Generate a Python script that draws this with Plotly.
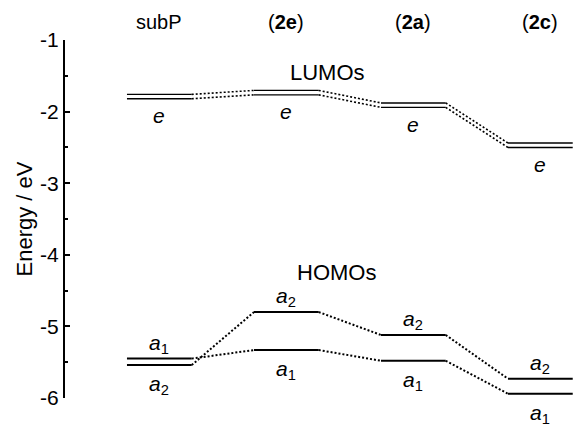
import plotly.graph_objects as go

# ---- data ----
columns = ["subP", "(<b>2e</b>)", "(<b>2a</b>)", "(<b>2c</b>)"]
lumo_e = [-1.79, -1.735, -1.91, -2.47]      # doubly degenerate e LUMOs (eV)
homo_a1 = [-5.45, -5.33, -5.48, -5.94]      # a1 HOMO levels (eV)
homo_a2 = [-5.54, -4.80, -5.12, -5.73]      # a2 HOMO levels (eV)
ytick_vals = [-1, -2, -3, -4, -5, -6]
ytick_text = ["-1", "-2", "-3", "-4", "-5", "-6"]
yminor_vals = [-1.5, -2.5, -3.5, -4.5, -5.5]

W = 0.51        # level width (x units)
D = 0.031       # half-gap of the double (degenerate) line, eV
FONT = "Liberation Sans, Arial, sans-serif"

def levels(vals, off=0.0):
    xs, ys = [], []
    for i, v in enumerate(vals):
        xs += [i, i + W, None]
        ys += [v + off, v + off, None]
    return xs, ys

def links(vals, off=0.0):
    xs, ys = [], []
    for i in range(len(vals) - 1):
        xs += [i + W, i + 1, None]
        ys += [vals[i] + off, vals[i + 1] + off, None]
    return xs, ys

fig = go.Figure()
solid = dict(color="black", width=1.4)
dotted = dict(color="black", width=1.6, dash="2px,2px")

for off in (D, -D):
    x, y = levels(lumo_e, off)
    fig.add_trace(go.Scatter(x=x, y=y, mode="lines", line=solid, hoverinfo="skip"))
    x, y = links(lumo_e, off)
    fig.add_trace(go.Scatter(x=x, y=y, mode="lines", line=dotted, hoverinfo="skip"))

for vals in (homo_a1, homo_a2):
    x, y = levels(vals)
    fig.add_trace(go.Scatter(x=x, y=y, mode="lines",
                             line=dict(color="black", width=2), hoverinfo="skip"))
    x, y = links(vals)
    fig.add_trace(go.Scatter(x=x, y=y, mode="lines",
                             line=dict(color="black", width=2, dash="2px,2px"),
                             hoverinfo="skip"))

def fnt(s):
    return dict(family=FONT, size=s, color="black")

ann = []
for i, name in enumerate(columns):
    ann.append(dict(x=i + W / 2, y=1.05, xref="x", yref="paper", text=name,
                    showarrow=False, font=fnt(20), xanchor="center", yanchor="middle"))
    ann.append(dict(x=i + W / 2, y=lumo_e[i], xref="x", yref="y", text="<i>e</i>",
                    showarrow=False, font=fnt(21), yanchor="middle", yshift=-19))
    up, lo = (homo_a1, homo_a2) if homo_a1[i] > homo_a2[i] else (homo_a2, homo_a1)
    up_lbl = "<i>a</i><sub>1</sub>" if up is homo_a1 else "<i>a</i><sub>2</sub>"
    lo_lbl = "<i>a</i><sub>1</sub>" if lo is homo_a1 else "<i>a</i><sub>2</sub>"
    ann.append(dict(x=i + W / 2, y=up[i], xref="x", yref="y", text=up_lbl,
                    showarrow=False, font=fnt(21), yanchor="middle", yshift=15))
    ann.append(dict(x=i + W / 2, y=lo[i], xref="x", yref="y", text=lo_lbl,
                    showarrow=False, font=fnt(21), yanchor="middle", yshift=-20))

ann.append(dict(x=1.58, y=-1.45, xref="x", yref="y", text="LUMOs",
                showarrow=False, font=fnt(22)))
ann.append(dict(x=1.65, y=-4.25, xref="x", yref="y", text="HOMOs",
                showarrow=False, font=fnt(22)))

fig.update_layout(
    width=574, height=426,
    margin=dict(l=65, r=0, t=40, b=28),
    paper_bgcolor="white", plot_bgcolor="white",
    showlegend=False,
    annotations=ann,
    font=fnt(20),
    xaxis=dict(range=[-0.488, 3.52], visible=False, showgrid=False, zeroline=False),
    yaxis=dict(range=[-6, -1], showgrid=False, zeroline=False,
               showline=True, linecolor="black", linewidth=2,
               ticks="inside", ticklen=5, tickwidth=1.5, tickcolor="black",
               tickvals=ytick_vals, ticktext=ytick_text,
               tickfont=fnt(21),
               minor=dict(tickvals=yminor_vals, ticks="inside", ticklen=3,
                          tickwidth=1.5, tickcolor="black"),
               title=dict(text="Energy / eV", standoff=1, font=fnt(22))),
)

fig.write_html("out.html")
